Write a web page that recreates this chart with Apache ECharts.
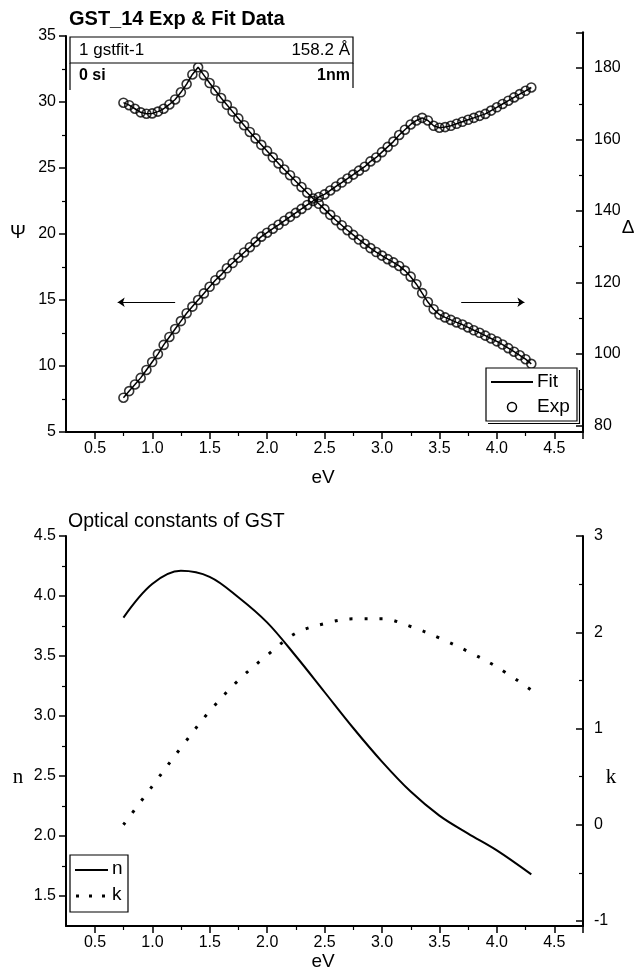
<!DOCTYPE html>
<html><head><meta charset="utf-8">
<script src="https://cdn.jsdelivr.net/npm/echarts@6/dist/echarts.min.js"></script>
<style>html,body{margin:0;padding:0;background:#fff}#c{width:637px;height:974px}</style>
</head><body><div id="c"></div>
<script>
// ---- data: top chart (ellipsometry, eV) ----
const eV = [0.75,0.80,0.85,0.90,0.95,1.00,1.05,1.10,1.15,1.20,
            1.25,1.30,1.35,1.40,1.45,1.50,1.55,1.60,1.65,1.70,
            1.75,1.80,1.85,1.90,1.95,2.00,2.05,2.10,2.15,2.20,
            2.25,2.30,2.35,2.40,2.45,2.50,2.55,2.60,2.65,2.70,
            2.75,2.80,2.85,2.90,2.95,3.00,3.05,3.10,3.15,3.20,
            3.25,3.30,3.35,3.40,3.45,3.50,3.55,3.60,3.65,3.70,
            3.75,3.80,3.85,3.90,3.95,4.00,4.05,4.10,4.15,4.20,
            4.25,4.30];
const psi = [7.6,8.1,8.6,9.1,9.7,10.3,10.9,11.6,12.2,12.8,
             13.4,14.0,14.5,15.0,15.5,16.0,16.5,16.9,17.4,17.8,
             18.2,18.6,19.0,19.4,19.8,20.1,20.4,20.7,21.0,21.3,
             21.6,21.9,22.2,22.5,22.8,23.0,23.3,23.6,23.9,24.2,
             24.5,24.8,25.1,25.5,25.8,26.2,26.6,27.0,27.5,27.9,
             28.3,28.6,28.8,28.6,28.2,28.05,28.1,28.2,28.35,28.5,
             28.65,28.8,28.95,29.1,29.35,29.6,29.85,30.1,30.35,30.6,
             30.85,31.1];
const delta = [170.3,169.6,168.6,167.6,167.2,167.3,167.8,168.6,169.8,171.2,
               173.2,175.5,178.2,180.2,178.0,175.8,173.7,171.6,169.7,167.8,
               165.9,164.0,162.1,160.3,158.5,156.8,155.0,153.3,151.6,150.0,
               148.3,146.7,145.1,143.5,142.0,140.5,138.9,137.4,136.0,134.6,
               133.3,132.0,130.8,129.6,128.5,127.5,126.5,125.6,124.6,123.3,
               121.6,119.5,117.0,114.5,112.5,111.0,110.2,109.5,108.8,108.2,
               107.4,106.6,105.9,105.1,104.3,103.5,102.6,101.6,100.6,99.6,
               98.5,97.2];
// ---- data: bottom chart (optical constants) ----
const eVopt = [0.75,1.0,1.25,1.5,1.75,2.0,2.25,2.5,2.75,3.0,3.25,3.5,3.75,4.0,4.3];
const nVals = [3.82,4.10,4.21,4.16,3.99,3.78,3.50,3.20,2.90,2.62,2.37,2.17,2.02,1.88,1.68];
const kVals = [0.00,0.40,0.80,1.18,1.50,1.76,1.99,2.09,2.14,2.14,2.06,1.94,1.80,1.64,1.40];
// arrow annotations (eV, Psi)
const arrowLeft = [[1.20,14.83],[0.70,14.83]];
const arrowRight = [[3.69,14.83],[4.24,14.83]];

const F = 'Liberation Sans, Arial, sans-serif';
const pair = (xs, ys) => xs.map((x, i) => [x, ys[i]]);

const lineOnly = (pos) => ({
  position: pos, min: 0, max: 1, axisLine: {show: true, onZero: false, lineStyle: {color: '#000', width: 2}},
  axisTick: {show: false}, axisLabel: {show: false}, splitLine: {show: false}
});
const hiddenX = (gi) => ({gridIndex: gi, type: 'value', min: 0.25, max: 4.75, show: false});
const hiddenY = (gi) => ({gridIndex: gi, type: 'value', min: 0, max: 1, show: false});
const tickLabel = {color: '#000', fontFamily: F, fontSize: 16};
const xTickAxis = (gi) => ({
  gridIndex: gi, type: 'value', min: 0.5, max: 4.75, interval: 0.5,
  axisLine: {show: false, onZero: false},
  axisTick: {show: true, length: 7, lineStyle: {color: '#000', width: 1.5}},
  minorTick: {show: true, splitNumber: 2, length: 4, lineStyle: {color: '#000', width: 1.2}},
  splitLine: {show: false}, minorSplitLine: {show: false},
  axisLabel: Object.assign({margin: 9, formatter: v => v > 4.6 ? '' : v.toFixed(1)}, tickLabel)
});

const option = {
  animation: false,
  backgroundColor: '#fff',
  title: [
    {text: 'GST_14 Exp & Fit Data', left: 64, top: 4, textStyle: {fontFamily: F, fontSize: 20, fontWeight: 'bold', color: '#000'}},
    {text: 'Optical constants of GST', left: 63, top: 507, textStyle: {fontFamily: F, fontSize: 19.5, fontWeight: 'normal', color: '#000'}}
  ],
  grid: [
    {left: 66, right: 54, top: 36, height: 396, outerBoundsMode: 'none'},   // 0 top frame + Psi
    {left: 95, right: 54, top: 36, height: 396, outerBoundsMode: 'none'},   // 1 top x ticks
    {left: 66, right: 54, top: 32.3, height: 393, outerBoundsMode: 'none'}, // 2 Delta
    {left: 66, right: 54, top: 536, height: 390, outerBoundsMode: 'none'},  // 3 bottom frame
    {left: 95, right: 54, top: 536, height: 390, outerBoundsMode: 'none'},  // 4 bottom x ticks
    {left: 66, right: 54, top: 536, height: 360, outerBoundsMode: 'none'},  // 5 n
    {left: 66, right: 54, top: 536, height: 385, outerBoundsMode: 'none'}   // 6 k
  ],
  xAxis: [
    {gridIndex: 0, type: 'value', min: 0.25, max: 4.75,
     axisLine: {show: true, onZero: false, lineStyle: {color: '#000', width: 2}},
     axisTick: {show: false}, axisLabel: {show: false}, splitLine: {show: false}},
    xTickAxis(1),
    hiddenX(2),
    {gridIndex: 3, type: 'value', min: 0.25, max: 4.75,
     axisLine: {show: true, onZero: false, lineStyle: {color: '#000', width: 2}},
     axisTick: {show: false}, axisLabel: {show: false}, splitLine: {show: false}},
    xTickAxis(4),
    hiddenX(5),
    hiddenX(6)
  ],
  yAxis: [
    {gridIndex: 0, type: 'value', position: 'left', min: 5, max: 35, interval: 5,
     axisLine: {show: true, onZero: false, lineStyle: {color: '#000', width: 2}},
     axisTick: {show: true, length: 7, lineStyle: {color: '#000', width: 1.5}},
     minorTick: {show: true, splitNumber: 2, length: 4, lineStyle: {color: '#000', width: 1.2}},
     splitLine: {show: false}, minorSplitLine: {show: false},
     axisLabel: Object.assign({margin: 10}, tickLabel)},
    Object.assign({gridIndex: 0, type: 'value'}, lineOnly('right')),
    hiddenY(1),
    {gridIndex: 2, type: 'value', position: 'right', min: 80, max: 190, interval: 20,
     axisLine: {show: true, onZero: false, lineStyle: {color: '#000', width: 2}},
     axisTick: {show: true, inside: true, length: 7, lineStyle: {color: '#000', width: 1.5}},
     minorTick: {show: true, splitNumber: 2, length: 4, lineStyle: {color: '#000', width: 1.2}},
     splitLine: {show: false}, minorSplitLine: {show: false},
     axisLabel: Object.assign({margin: 11, formatter: v => v > 185 ? '' : String(v)}, tickLabel)},
    Object.assign({gridIndex: 3, type: 'value'}, lineOnly('left')),
    Object.assign({gridIndex: 3, type: 'value'}, lineOnly('right')),
    hiddenY(4),
    {gridIndex: 5, type: 'value', position: 'left', min: 1.5, max: 4.5, interval: 0.5,
     axisLine: {show: false, onZero: false},
     axisTick: {show: true, length: 7, lineStyle: {color: '#000', width: 1.5}},
     minorTick: {show: true, splitNumber: 2, length: 4, lineStyle: {color: '#000', width: 1.2}},
     splitLine: {show: false}, minorSplitLine: {show: false},
     axisLabel: Object.assign({margin: 10, formatter: v => v.toFixed(1)}, tickLabel)},
    {gridIndex: 6, type: 'value', position: 'right', min: -1, max: 3, interval: 1,
     axisLine: {show: false, onZero: false},
     axisTick: {show: true, inside: true, length: 7, lineStyle: {color: '#000', width: 1.5}},
     minorTick: {show: true, splitNumber: 2, length: 4, lineStyle: {color: '#000', width: 1.2}},
     splitLine: {show: false}, minorSplitLine: {show: false},
     axisLabel: Object.assign({margin: 11}, tickLabel)}
  ],
  series: [
    {name: 'Fit', type: 'line', xAxisIndex: 0, yAxisIndex: 0, data: pair(eV, psi), showSymbol: false, z: 2,
     lineStyle: {color: '#000', width: 1.5},
     markLine: {silent: true, symbol: ['none', 'arrow'], symbolSize: 7, label: {show: false},
       lineStyle: {color: '#000', width: 1, type: 'solid'},
       data: [[{coord: arrowLeft[0]}, {coord: arrowLeft[1]}], [{coord: arrowRight[0]}, {coord: arrowRight[1]}]]}},
    {name: 'Exp', type: 'scatter', xAxisIndex: 0, yAxisIndex: 0, data: pair(eV, psi), symbol: 'circle', symbolSize: 9, z: 3,
     itemStyle: {color: 'rgba(0,0,0,0)', borderColor: '#000', borderWidth: 1.6}},
    {name: 'Fit', type: 'line', xAxisIndex: 2, yAxisIndex: 3, data: pair(eV, delta), showSymbol: false, z: 2,
     lineStyle: {color: '#000', width: 1.5}},
    {name: 'Exp', type: 'scatter', xAxisIndex: 2, yAxisIndex: 3, data: pair(eV, delta), symbol: 'circle', symbolSize: 9, z: 3,
     itemStyle: {color: 'rgba(0,0,0,0)', borderColor: '#000', borderWidth: 1.6}},
    {name: 'n', type: 'line', xAxisIndex: 5, yAxisIndex: 7, data: pair(eVopt, nVals), smooth: 0.35, showSymbol: false,
     lineStyle: {color: '#000', width: 2}},
    {name: 'k', type: 'line', xAxisIndex: 6, yAxisIndex: 8, data: pair(eVopt, kVals), smooth: 0.35, showSymbol: false,
     lineStyle: {color: '#000', width: 3, type: [3, 12]}}
  ],
  graphic: [
    // top info box
    {type: 'rect', z: 100, shape: {x: 70, y: 37, width: 283, height: 26}, style: {fill: '#fff', stroke: '#000', lineWidth: 1.2}},
    {type: 'line', z: 100, shape: {x1: 70, y1: 63, x2: 70, y2: 90}, style: {stroke: '#000', lineWidth: 1.2}},
    {type: 'line', z: 100, shape: {x1: 353, y1: 63, x2: 353, y2: 88}, style: {stroke: '#000', lineWidth: 1.2}},
    {type: 'text', z: 101, style: {text: '1 gstfit-1', x: 79, y: 50, fontFamily: F, fontSize: 17, fill: '#000', align: 'left', verticalAlign: 'middle'}},
    {type: 'text', z: 101, style: {text: '158.2 Å', x: 350, y: 50, fontFamily: F, fontSize: 17, fill: '#000', align: 'right', verticalAlign: 'middle'}},
    {type: 'text', z: 101, style: {text: '0 si', x: 79, y: 76, fontFamily: F, fontSize: 16, fontWeight: 'bold', fill: '#000', align: 'left', verticalAlign: 'middle'}},
    {type: 'text', z: 101, style: {text: '1nm', x: 350, y: 76, fontFamily: F, fontSize: 16, fontWeight: 'bold', fill: '#000', align: 'right', verticalAlign: 'middle'}},
    // Fit / Exp legend
    {type: 'rect', z: 100, shape: {x: 486, y: 368, width: 91, height: 53}, style: {fill: '#fff', stroke: '#000', lineWidth: 1.2}},
    {type: 'polyline', z: 100, shape: {points: [[579.5, 370], [579.5, 423.5], [488, 423.5]]}, style: {fill: null, stroke: '#000', lineWidth: 1.2}},
    {type: 'line', z: 101, shape: {x1: 491, y1: 382, x2: 533, y2: 382}, style: {stroke: '#000', lineWidth: 2}},
    {type: 'text', z: 101, style: {text: 'Fit', x: 537, y: 382, fontFamily: F, fontSize: 19, fill: '#000', align: 'left', verticalAlign: 'middle'}},
    {type: 'circle', z: 101, shape: {cx: 512, cy: 407, r: 4.5}, style: {fill: 'none', stroke: '#000', lineWidth: 1.5}},
    {type: 'text', z: 101, style: {text: 'Exp', x: 537, y: 407, fontFamily: F, fontSize: 19, fill: '#000', align: 'left', verticalAlign: 'middle'}},
    // n / k legend
    {type: 'rect', z: 100, shape: {x: 70, y: 855, width: 58, height: 57}, style: {fill: '#fff', stroke: '#000', lineWidth: 1.2}},
    {type: 'line', z: 101, shape: {x1: 75, y1: 870, x2: 108, y2: 870}, style: {stroke: '#000', lineWidth: 2.2}},
    {type: 'text', z: 101, style: {text: 'n', x: 112, y: 869, fontFamily: F, fontSize: 19, fill: '#000', align: 'left', verticalAlign: 'middle'}},
    {type: 'line', z: 101, shape: {x1: 76, y1: 896, x2: 108, y2: 896}, style: {stroke: '#000', lineWidth: 3, lineDash: [3, 10]}},
    {type: 'text', z: 101, style: {text: 'k', x: 112, y: 895, fontFamily: F, fontSize: 19, fill: '#000', align: 'left', verticalAlign: 'middle'}},
    // axis names
    {type: 'text', z: 101, style: {text: 'Ψ', x: 18, y: 233, fontFamily: F, fontSize: 19, fill: '#000', align: 'center', verticalAlign: 'middle'}},
    {type: 'text', z: 101, style: {text: 'Δ', x: 628, y: 228, fontFamily: F, fontSize: 19, fill: '#000', align: 'center', verticalAlign: 'middle'}},
    {type: 'text', z: 101, style: {text: 'eV', x: 323, y: 478, fontFamily: F, fontSize: 19, fill: '#000', align: 'center', verticalAlign: 'middle'}},
    {type: 'text', z: 101, style: {text: 'n', x: 18, y: 777, fontFamily: 'Liberation Serif, serif', fontSize: 21, fill: '#000', align: 'center', verticalAlign: 'middle'}},
    {type: 'text', z: 101, style: {text: 'k', x: 611, y: 777, fontFamily: 'Liberation Serif, serif', fontSize: 21, fill: '#000', align: 'center', verticalAlign: 'middle'}},
    {type: 'text', z: 101, style: {text: 'eV', x: 323, y: 962, fontFamily: F, fontSize: 19, fill: '#000', align: 'center', verticalAlign: 'middle'}}
  ]
};
const chart = echarts.init(document.getElementById('c'), null, {renderer: 'canvas'});
chart.setOption(option);
</script>
</body></html>
